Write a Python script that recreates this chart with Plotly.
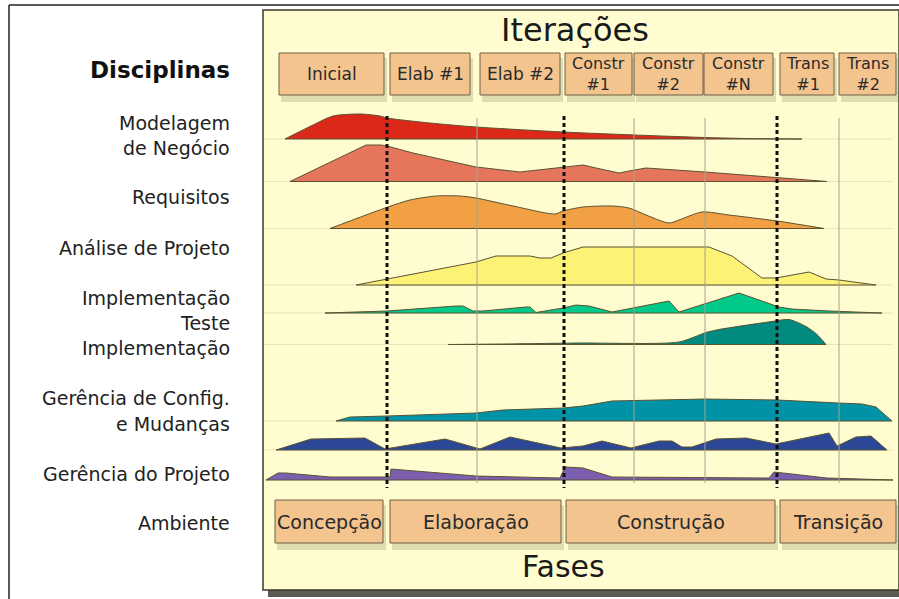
import plotly.graph_objects as go

# ---------------- DATA ----------------
left_labels = ["Modelagem", "de Negócio", "Requisitos", "Análise de Projeto", "Implementação",
               "Teste", "Implementação", "Gerência de Config.", "e Mudanças",
               "Gerência do Projeto", "Ambiente"]
iterations = ["Inicial", "Elab #1", "Elab #2", "Constr<br>#1", "Constr<br>#2", "Constr<br>#N",
              "Trans<br>#1", "Trans<br>#2"]
phases = ["Concepção", "Elaboração", "Construção", "Transição"]

series_names = ["Modelagem de Negócio", "Requisitos", "Análise e Projeto", "Implementação",
                "Teste", "Implantação", "Gerência de Config. e Mudanças",
                "Gerência do Projeto", "Ambiente"]

red_x = [285, 313, 333, 360, 380, 387, 430, 476, 563, 635, 705, 746, 802]
red_h = [0, 14, 23, 25, 23, 21, 16, 12, 7, 4, 1.5, 0.5, 0]

salmon_x = [290, 366, 381, 387, 413, 443, 476, 520, 553, 583, 596, 619, 629, 646, 705, 777, 827]
salmon_h = [0, 36.5, 36.5, 35.5, 28.5, 21.5, 14.5, 9.5, 13.5, 16.5, 13.5, 8.5, 10.5, 13.5, 9.5, 3.5, 0]

orange_x = [330, 388, 410, 436, 460, 476, 513, 555, 563, 583, 612, 629, 646, 669, 679, 702, 729, 777, 824]
orange_h = [0, 21.5, 28.5, 32.5, 32.5, 30.5, 22.5, 14.5, 17.5, 21.5, 22.5, 20.5, 13.5, 5.5, 8.5, 16.5, 13.5, 7.5, 0]

yellow_x = [356, 387, 476, 496, 530, 540, 551, 563, 583, 709, 732, 762, 776, 809, 826, 839, 876]
yellow_h = [0, 6, 23, 29, 29, 27, 27, 32, 38, 38, 29, 7, 7, 13, 6, 5, 0]

green_x = [325, 387, 456, 463, 473, 483, 526, 530, 536, 563, 576, 589, 612, 669, 679, 739, 779, 792, 829, 882]
green_h = [0, 2, 7, 7, 2, 2, 6, 6, 0.5, 5, 8, 7, 1, 12, 1, 20, 6, 4, 2, 0]

dteal_x = [448, 503, 579, 679, 706, 719, 772, 789, 806, 817, 826]
dteal_h = [0, 0.5, 1.5, 2.5, 12, 15, 23, 25, 18, 10, 0]

teal_x = [336, 350, 387, 476, 503, 563, 583, 612, 705, 777, 839, 862, 876, 892]
teal_h = [0, 4, 5, 8, 11, 13, 15, 20, 22, 21, 18, 17, 14, 0]

navy_x = [276, 311, 365, 385, 391, 445, 480, 510, 561, 583, 602, 631, 659, 672, 682, 692, 716, 746, 776, 829, 837, 856, 871, 887]
navy_h = [0, 11, 12, 1, 2, 11, 1, 13, 2, 4, 9, 2, 9, 9, 3, 3, 11, 12, 6, 17, 4, 13, 14, 0]

purple_x = [266, 278, 286, 330, 390, 391, 476, 560, 565, 583, 612, 769, 774, 783, 827, 893]
purple_h = [0, 7, 7, 3, 3, 11, 4, 2, 13, 12, 3, 2, 8, 7, 2, 0]

series_x = [red_x, salmon_x, orange_x, yellow_x, green_x, dteal_x, teal_x, navy_x, purple_x]
series_h = [red_h, salmon_h, orange_h, yellow_h, green_h, dteal_h, teal_h, navy_h, purple_h]

# phase boundaries (dotted) and iteration boundaries (grey)
phase_bounds = [387, 564, 777]
iter_bounds = [477, 634, 705, 839]

# ---------------- STYLE / LAYOUT ----------------
colors = ["#DC2818", "#E5765C", "#F1A044", "#FCF275", "#00C98A", "#008A80", "#0093A7", "#2C4796", "#7C5FAE"]
smooth = [True, False, True, False, False, True, False, False, False]
baselines = [139, 181.5, 228.5, 285, 313, 344.5, 421, 450, 480]
label_y = [123, 148, 197, 248, 298, 323, 348, 398, 424, 474, 523]

iter_boxes = [(279, 384), (390, 470), (480, 560), (565, 632), (634, 703), (704, 773), (780, 834), (839, 896)]
phase_boxes = [(275, 383), (390, 561), (566, 775), (780, 896)]

FONT = "DejaVu Sans"
PANEL = "#FFFDCF"
BOX = "#F4C48E"
EDGE = "#5a5232"

fig = go.Figure()

for name, xs, hs, col, b, sm in zip(series_names, series_x, series_h, colors, baselines, smooth):
    fig.add_trace(go.Scatter(x=[xs[0], xs[-1]], y=[b, b], mode="lines",
                             line=dict(color=EDGE, width=1), showlegend=False, hoverinfo="skip"))
    fig.add_trace(go.Scatter(x=xs, y=[b - h for h in hs], mode="lines", name=name,
                             line=dict(color=EDGE, width=1, shape="spline" if sm else "linear", smoothing=0.7),
                             fill="tonexty", fillcolor=col, showlegend=False))

shapes = []
# outer frame
shapes.append(dict(type="line", x0=9, x1=9, y0=5, y1=599, line=dict(color="#222", width=1.5), layer="below"))
shapes.append(dict(type="line", x0=9, x1=899, y0=5, y1=5, line=dict(color="#222", width=1.5), layer="below"))
# panel shadow + panel
shapes.append(dict(type="rect", x0=268, x1=899, y0=588, y1=597, fillcolor="#5a5a50", line=dict(width=0), layer="below"))
shapes.append(dict(type="rect", x0=263, x1=899, y0=10, y1=590, fillcolor=PANEL, line=dict(color="#3a3a28", width=1.5), layer="below"))
# faint baselines
for b in baselines:
    shapes.append(dict(type="line", x0=264, x1=893, y0=b, y1=b, line=dict(color="rgba(200,200,160,0.45)", width=1), layer="below"))
# iteration boxes
for x0, x1 in iter_boxes:
    shapes.append(dict(type="rect", x0=x0 + 2, x1=x1 + 3, y0=58, y1=102, fillcolor="rgba(110,110,70,0.22)", line=dict(width=0), layer="below"))
    shapes.append(dict(type="rect", x0=x0, x1=x1, y0=53, y1=95, fillcolor=BOX, line=dict(color="#6e5e44", width=1), layer="below"))
for x0, x1 in phase_boxes:
    shapes.append(dict(type="rect", x0=x0 + 2, x1=x1 + 3, y0=505, y1=550, fillcolor="rgba(110,110,70,0.22)", line=dict(width=0), layer="below"))
    shapes.append(dict(type="rect", x0=x0, x1=x1, y0=500, y1=543, fillcolor=BOX, line=dict(color="#6e5e44", width=1), layer="below"))
# vertical lines
for x in iter_bounds:
    shapes.append(dict(type="line", x0=x, x1=x, y0=118, y1=483, line=dict(color="#a4a290", width=1), layer="above"))
for x in phase_bounds:
    shapes.append(dict(type="line", x0=x, x1=x, y0=116, y1=488, line=dict(color="#111", width=3, dash="4px,3px"), layer="above"))

ann = []
ann.append(dict(x=232, y=70, text="<b>Disciplinas</b>", xanchor="right", yanchor="middle",
                font=dict(family=FONT, size=23, color="#111"), showarrow=False))
for t, y in zip(left_labels, label_y):
    ann.append(dict(x=232, y=y, text=t, xanchor="right", yanchor="middle",
                    font=dict(family=FONT, size=19, color="#222"), showarrow=False))
ann.append(dict(x=575, y=30, text="Iterações", xanchor="center", yanchor="middle",
                font=dict(family=FONT, size=32, color="#1a1a1a"), showarrow=False))
ann.append(dict(x=563, y=566, text="Fases", xanchor="center", yanchor="middle",
                font=dict(family=FONT, size=30, color="#1a1a1a"), showarrow=False))
for t, (x0, x1) in zip(iterations, iter_boxes):
    cx = (x0 + x1) / 2
    two = "<br>" in t
    ann.append(dict(x=cx, y=74, text=t, xanchor="center", yanchor="middle",
                    font=dict(family=FONT, size=16 if two else 17, color="#2a2a2a"), showarrow=False))
for t, (x0, x1) in zip(phases, phase_boxes):
    ann.append(dict(x=(x0 + x1) / 2, y=522, text=t, xanchor="center", yanchor="middle",
                    font=dict(family=FONT, size=19, color="#2a2a2a"), showarrow=False))

fig.update_layout(
    width=899, height=599, autosize=False,
    margin=dict(l=0, r=0, t=0, b=0),
    paper_bgcolor="white", plot_bgcolor="white",
    xaxis=dict(range=[0, 899], visible=False, fixedrange=True),
    yaxis=dict(range=[599, 0], visible=False, fixedrange=True),
    shapes=shapes, annotations=ann, showlegend=False,
)

fig.write_html("out.html", config={"displayModeBar": False},
               post_script="document.body.style.margin='0';document.body.style.overflow='hidden';")
